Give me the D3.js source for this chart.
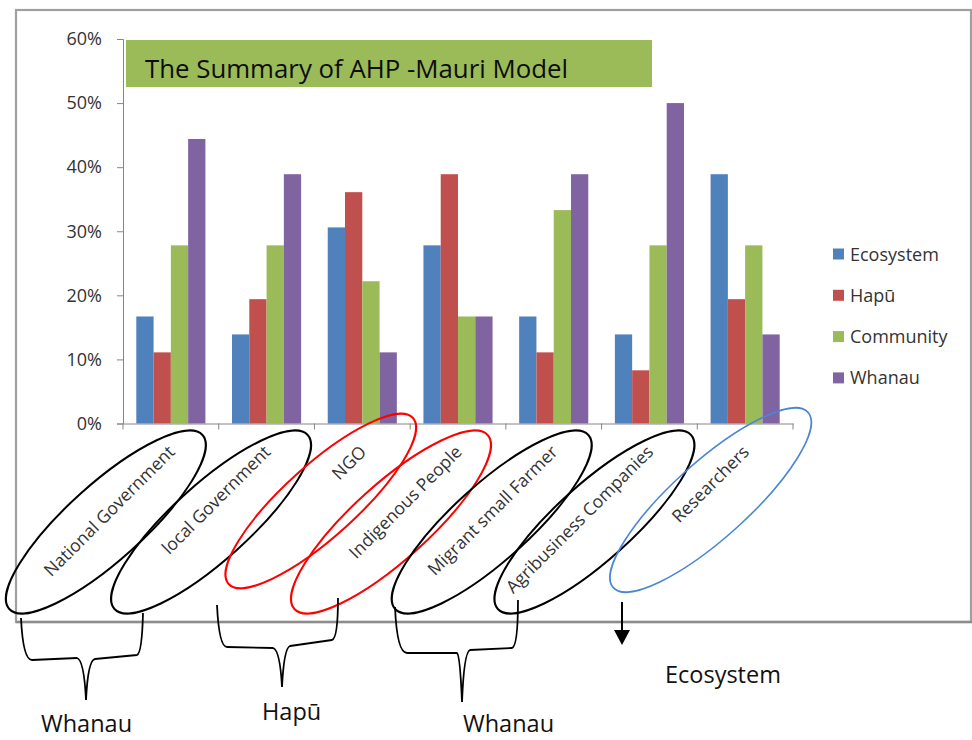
<!DOCTYPE html>
<html>
<head>
<meta charset="utf-8">
<script src="https://cdn.jsdelivr.net/npm/d3@7/dist/d3.min.js"></script>
<style>
  html, body { margin: 0; padding: 0; background: #fff; }
  svg { display: block; }
</style>
</head>
<body>
<script>
// ---------- data ----------
const categories = ["National Government", "local Government", "NGO", "Indigenous People",
                    "Migrant small Farmer", "Agribusiness Companies", "Researchers"];
const seriesNames = ["Ecosystem", "Hapū", "Community", "Whanau"];
const ecosystem = [16.7, 13.9, 30.6, 27.8, 16.7, 13.9, 38.9];
const hapu      = [11.1, 19.4, 36.1, 38.9, 11.1,  8.3, 19.4];
const community = [27.8, 27.8, 22.2, 16.7, 33.3, 27.8, 27.8];
const whanau    = [44.4, 38.9, 11.1, 16.7, 38.9, 50.0, 13.9];
const yTickValues = [0, 10, 20, 30, 40, 50, 60];
const titleText = "The Summary of AHP -Mauri Model";
const groupLabels = ["Whanau", "Hapū", "Whanau", "Ecosystem"];

const seriesValues = [ecosystem, hapu, community, whanau];
const colors = ["#4F81BD", "#C0504D", "#9BBB59", "#8064A2"];

// ---------- layout ----------
const W = 972, H = 740;
const svg = d3.select("body").append("svg").attr("width", W).attr("height", H);
svg.append("rect").attr("width", W).attr("height", H).attr("fill", "#fff");

// chart frame
svg.append("rect").attr("x", 16).attr("y", 10).attr("width", 955).attr("height", 612)
  .attr("fill", "none").attr("stroke", "#a0a0a0").attr("stroke-width", 2.2);
svg.append("line").attr("x1", 16).attr("x2", 972).attr("y1", 622).attr("y2", 622)
  .attr("stroke", "#8c8c8c").attr("stroke-width", 2.6);

const x0 = d3.scaleBand().domain(categories).range([123, 793]).paddingInner(0).paddingOuter(0);
const x1 = d3.scaleBand().domain(seriesNames).range([0, x0.bandwidth()]).paddingInner(0).paddingOuter(0.77);
const y = d3.scaleLinear().domain([0, 60]).range([423.5, 39]);

const font = "'Open Sans', 'DejaVu Sans', sans-serif";

// title box
svg.append("rect").attr("x", 126).attr("y", 40).attr("width", 526).attr("height", 47)
  .attr("fill", "#9BBB59");
svg.append("text").attr("x", 145).attr("y", 77.5).text(titleText)
  .attr("font-family", font).attr("font-size", 25.5).attr("fill", "#0d0d0d")
  .attr("textLength", 423).attr("lengthAdjust", "spacingAndGlyphs");

// bars
const rows = [];
categories.forEach((c, i) => seriesNames.forEach((s, j) => rows.push({c, s, v: seriesValues[j][i], j})));
svg.append("g").selectAll("rect").data(rows).join("rect")
  .attr("x", d => x0(d.c) + x1(d.s))
  .attr("y", d => y(d.v))
  .attr("width", x1.bandwidth())
  .attr("height", d => y(0) - y(d.v))
  .attr("fill", d => colors[d.j]);

// y axis
const yAxis = svg.append("g").attr("transform", `translate(123,0)`)
  .call(d3.axisLeft(y).tickValues(yTickValues).tickFormat(d => d + "%").tickSize(6).tickPadding(15));
yAxis.select(".domain").attr("stroke", "#868686");
yAxis.selectAll(".tick line").attr("stroke", "#868686");
yAxis.selectAll(".tick text").attr("font-family", font).attr("font-size", 18).attr("fill", "#333");

// x axis
const xAxis = svg.append("g").attr("transform", `translate(0,${y(0)})`)
  .call(d3.axisBottom(x0).tickSize(0).tickFormat(""));
xAxis.select(".domain").attr("stroke", "#868686");
xAxis.selectAll(".tick").remove();
const boundaries = d3.range(categories.length + 1).map(i => 123 + i * x0.step());
svg.append("g").selectAll("line").data(boundaries).join("line")
  .attr("x1", d => d).attr("x2", d => d)
  .attr("y1", y(0)).attr("y2", y(0) + 6)
  .attr("stroke", "#868686");

// x labels
svg.append("g").selectAll("text").data(categories).join("text")
  .attr("transform", d => `translate(${x0(d) + x0.bandwidth() / 2 + 5},453) rotate(-45)`)
  .attr("text-anchor", "end")
  .attr("font-family", font).attr("font-size", 17.5).attr("fill", "#333")
  .text(d => d);

// legend
const lg = svg.append("g");
seriesNames.forEach((s, j) => {
  const cy = 254 + j * 41.3;
  lg.append("rect").attr("x", 833).attr("y", cy - 5.5).attr("width", 11).attr("height", 11).attr("fill", colors[j]);
  lg.append("text").attr("x", 850).attr("y", cy + 6.5).text(s)
    .attr("font-family", font).attr("font-size", 18).attr("fill", "#333");
});

// ---------- annotations ----------
const ellipseSpecs = [
  {i: 0, dx: -65,   cy: 522, rx: 130, ry: 38, a: -42, c: "#000"},
  {i: 1, dx: -55.5, cy: 522, rx: 130, ry: 38, a: -42, c: "#000"},
  {i: 2, dx: -41.5, cy: 501, rx: 124, ry: 36, a: -42, c: "#ff0000"},
  {i: 3, dx: -67,   cy: 522, rx: 130, ry: 38, a: -42, c: "#ff0000"},
  {i: 4, dx: -62,   cy: 522, rx: 130, ry: 38, a: -42, c: "#000"},
  {i: 5, dx: -55,   cy: 522, rx: 130, ry: 38, a: -42, c: "#000"},
  {i: 6, dx: -34.5, cy: 500, rx: 131, ry: 38, a: -42, c: "#4a86d4"}
];
svg.append("g").selectAll("ellipse").data(ellipseSpecs).join("ellipse")
  .attr("transform", d => `translate(${x0(categories[d.i]) + x0.bandwidth() / 2 + d.dx},${d.cy}) rotate(${d.a})`)
  .attr("rx", d => d.rx).attr("ry", d => d.ry)
  .attr("fill", "none").attr("stroke", d => d.c).attr("stroke-width", d => d.c === "#4a86d4" ? 1.6 : 2);

// braces
const bracePaths = [
  "M21,618 Q23,660 32,660 L77,658 Q84,660 86,700 Q88,660 95,659 L137,655 Q142,653 143,613",
  "M217,605 Q219,647 227,647 L273,648 Q280,650 282,687 Q284,648 290,646 L332,640 Q338,638 338,598",
  "M395,607 Q397,653 407,653 L457,653 Q460,655 462,702 Q464,652 470,650 L512,648 Q518,646 518,600"
];
svg.append("g").selectAll("path").data(bracePaths).join("path")
  .attr("d", d => d).attr("fill", "none").attr("stroke", "#000").attr("stroke-width", 1.8);

// arrow
svg.append("line").attr("x1", 622).attr("x2", 622).attr("y1", 602).attr("y2", 632)
  .attr("stroke", "#000").attr("stroke-width", 2);
svg.append("path").attr("d", "M614,630 L630,630 L622,645 Z").attr("fill", "#000");

// group labels
const labelPos = [[41, 732], [262, 720], [463, 732], [665, 683]];
svg.append("g").selectAll("text").data(groupLabels).join("text")
  .attr("x", (d, i) => labelPos[i][0]).attr("y", (d, i) => labelPos[i][1])
  .attr("font-family", font).attr("font-size", 23.5).attr("fill", "#111")
  .text(d => d);
</script>
</body>
</html>
